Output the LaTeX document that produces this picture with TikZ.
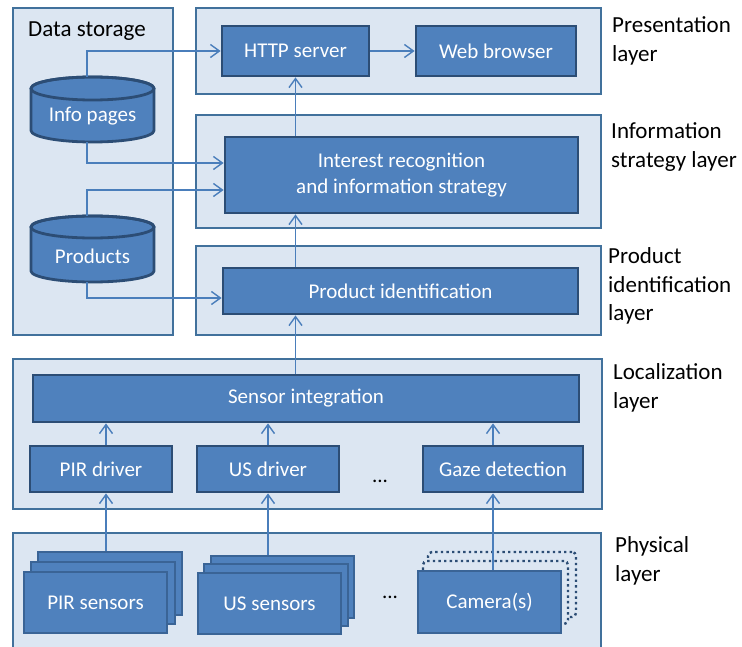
\documentclass[tikz,border=0pt]{standalone}
\usepackage{fontspec}
\setmainfont{Carlito}
\usetikzlibrary{arrows.meta,calc}
\definecolor{panelfill}{HTML}{DCE6F2}
\definecolor{panelline}{HTML}{41719C}
\definecolor{boxfill}{HTML}{4F81BD}
\definecolor{boxline}{HTML}{2C4D75}
\definecolor{stackline}{HTML}{3A6496}
\definecolor{arrowc}{HTML}{4A7EBB}
\tikzset{
  panel/.style={draw=panelline, fill=panelfill, line width=2.6pt, rectangle, inner sep=0pt},
  box/.style={draw=boxline, fill=boxfill, line width=2.8pt, rectangle, inner sep=0pt,
    text=white, font=\fontsize{21}{26}\selectfont, align=center},
  stackbox/.style={draw=stackline, fill=boxfill, line width=2.4pt, rectangle, inner sep=0pt,
    text=white, font=\fontsize{21}{26}\selectfont},
  dotbox/.style={draw=boxline, fill=panelfill, line width=2.4pt, dash pattern=on 2.4pt off 3.2pt,
    rounded corners=4pt, rectangle, inner sep=0pt},
  cylline/.style={draw=boxline, fill=boxfill, line width=2.8pt},
  cyltext/.style={text=white, font=\fontsize{21}{26}\selectfont, inner sep=0pt},
  lbl/.style={font=\fontsize{23}{28.5}\selectfont, align=left, anchor=west, inner sep=0pt},
  dots/.style={font=\fontsize{21}{26}\selectfont, inner sep=0pt},
  arr/.style={draw=arrowc, line width=1.4pt, -{Straight Barb[length=9pt,width=13pt,line width=1.4pt]}},
}
\begin{document}
\begin{tikzpicture}[x=1pt,y=-1pt]
\useasboundingbox (0,0) rectangle (742,647);
\fill[white] (0,0) rectangle (742,647);
\begin{scope}
\clip (0,0) rectangle (742,647);
% panels
\node[panel, minimum width=160, minimum height=327] (ds) at (93,171.5) {};
\node[panel, minimum width=405, minimum height=86] (pres) at (398.5,51) {};
\node[panel, minimum width=405, minimum height=113] (info) at (398.5,171.5) {};
\node[panel, minimum width=405, minimum height=89] (pid) at (398.5,290.5) {};
\node[panel, minimum width=589, minimum height=150] (loc) at (307.5,434) {};
\node[panel, minimum width=588, minimum height=130] (phys) at (307,598) {};
\end{scope}

% data storage label
\node[lbl] (dslbl) at (28,31) {Data storage};

% cylinders
\path[cylline] (31,88.5) -- (31,130.5) arc[start angle=180,end angle=0,x radius=61.5,y radius=11.5]
  -- (154,88.5) arc[start angle=0,end angle=-180,x radius=61.5,y radius=11.5] -- cycle;
\draw[draw=boxline, line width=2.8pt] (92.5,88.5) ellipse[x radius=61.5, y radius=11.5];
\node[minimum width=123, minimum height=65, inner sep=0pt] (infop) at (92.5,109.5) {};
\node[cyltext] (infoptext) at (92.5,116) {Info pages};

\path[cylline] (31,227) -- (31,271) arc[start angle=180,end angle=0,x radius=61.5,y radius=11]
  -- (154,227) arc[start angle=0,end angle=-180,x radius=61.5,y radius=11] -- cycle;
\draw[draw=boxline, line width=2.8pt] (92.5,227) ellipse[x radius=61.5, y radius=11];
\node[minimum width=123, minimum height=66, inner sep=0pt] (prod) at (92.5,249) {};
\node[cyltext] (prodtext) at (92.5,256) {Products};

% boxes
\node[box, minimum width=147, minimum height=50] (http) at (295.5,51) {HTTP server};
\node[box, minimum width=160, minimum height=50] (web) at (496,51) {Web browser};
\node[box, minimum width=353, minimum height=76] (irs) at (401.5,175) {Interest recognition\\and information strategy};
\node[box, minimum width=355, minimum height=46] (pidbox) at (400.5,291) {Product identification};
\node[box, minimum width=546, minimum height=47] (sint) at (306,398.5) {Sensor integration};
\node[box, minimum width=142, minimum height=46] (pird) at (101,469) {PIR driver};
\node[box, minimum width=142, minimum height=46] (usd) at (268,469) {US driver};
\node[box, minimum width=160, minimum height=46] (gaze) at (503,469) {Gaze detection};

% sensor stacks
\node[stackbox, minimum width=144, minimum height=63] (pir3) at (110,583.5) {};
\node[stackbox, minimum width=144, minimum height=62] (pir2) at (103,593) {};
\node[stackbox, minimum width=143, minimum height=61] (pir1) at (95.5,602.5) {PIR sensors};

\node[stackbox, minimum width=143, minimum height=62] (us3) at (282.5,587) {};
\node[stackbox, minimum width=144, minimum height=62] (us2) at (276,595) {};
\node[stackbox, minimum width=143, minimum height=61] (us1) at (269.5,603.5) {US sensors};

\node[dotbox, minimum width=148, minimum height=65] (cam3) at (502,584.5) {};
\node[dotbox, minimum width=145, minimum height=63] (cam2) at (495.5,592.5) {};
\node[stackbox, minimum width=143, minimum height=62] (cam1) at (489.5,602) {Camera(s)};

% dots
\node[dots] (dotsloc) at (380,481) {...};
\node[dots] (dotsphys) at (390,597) {...};

% layer labels
\node[lbl] (lpres) at (612,41) {Presentation\\layer};
\node[lbl] (linfo) at (611,147) {Information\\strategy layer};
\node[lbl] (lpid) at (608,286) {Product\\identification\\layer};
\node[lbl] (lloc) at (613,388) {Localization\\layer};
\node[lbl] (lphys) at (615,561) {Physical\\layer};

% connectors
\draw[arr] ([xshift=-5.5pt]infop.north) |- (http.west);
\draw[arr] ([xshift=-5.5pt]infop.south) |- ([yshift=12pt]irs.west);
\draw[arr] ([xshift=-5.5pt]prod.north) |- ([yshift=-15pt]irs.west);
\draw[arr] ([xshift=-5.5pt]prod.south) |- ([yshift=-7pt]pidbox.west);
\draw[arr] (http.east) -- (web.west);
\draw[arr] (irs.north -| http.south) -- (http.south);
\draw[arr] (pidbox.north -| http.south) -- (irs.south -| http.south);
\draw[arr] (sint.north -| http.south) -- (pidbox.south -| http.south);
\draw[arr] ([xshift=5pt]pird.north) -- ([xshift=5pt]pird.north |- sint.south);
\draw[arr] (usd.north) -- (usd.north |- sint.south);
\draw[arr] ([xshift=-10pt]gaze.north) -- ([xshift=-10pt]gaze.north |- sint.south);
\draw[arr] ([xshift=-4pt]pir3.north) -- ([xshift=-4pt]pir3.north |- pird.south);
\draw[arr] (us3.north -| usd.south) -- (usd.south);
\draw[arr] ([xshift=3.5pt]cam1.north) -- ([xshift=3.5pt]cam1.north |- gaze.south);
\end{tikzpicture}
\end{document}
